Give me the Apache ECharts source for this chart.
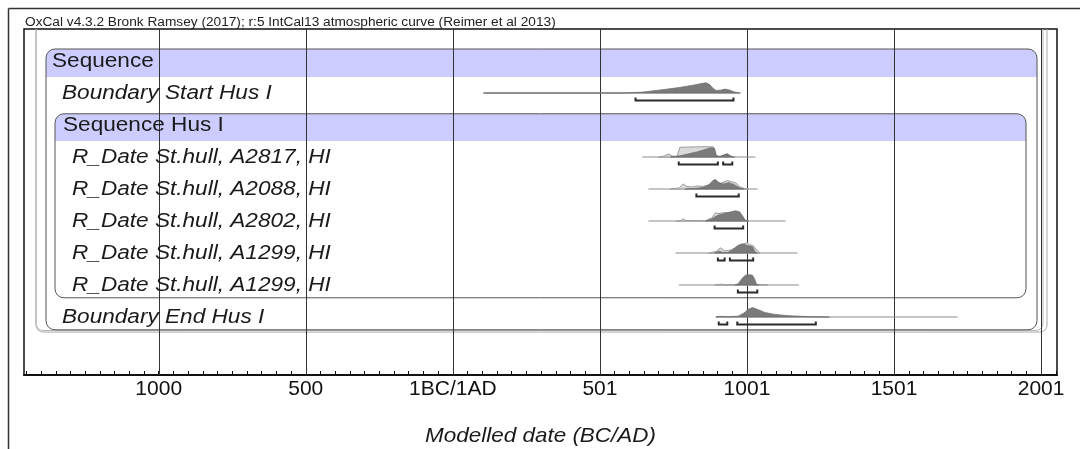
<!DOCTYPE html>
<html>
<head>
<meta charset="utf-8">
<script src="https://cdn.jsdelivr.net/npm/echarts@6/dist/echarts.min.js"></script>
<style>
  html, body { margin: 0; padding: 0; background: #fff; }
  #chart { width: 1080px; height: 449px; }
</style>
</head>
<body>
<div id="chart"></div>
<script>
// x axis in years, 0 = 1BC/1AD
const xMin = -1458
const xMax = 2054
const tickValues = [-1000, -500, 0, 500, 1000, 1500, 2000]
const tickLabels = ['1000', '500', '1BC/1AD', '501', '1001', '1501', '2001']
const minorTicks = []
for (let v = -1450; v <= 2050; v += 50) minorTicks.push(v)

// rows (y = row number, top to bottom)
const rowNames = [
  'Sequence',
  'Boundary Start Hus I',
  'Sequence Hus I',
  'R_Date St.hull, A2817, HI',
  'R_Date St.hull, A2088, HI',
  'R_Date St.hull, A2802, HI',
  'R_Date St.hull, A1299, HI',
  'R_Date St.hull, A1299, HI',
  'Boundary End Hus I',
]
const rowY = [1, 2, 3, 4, 5, 6, 7, 8, 9]
const rowItalic = [false, true, false, true, true, true, true, true, true]
const rowIndent = [28, 38, 39, 48, 48, 48, 48, 48, 38]

// Boundary Start Hus I
const startSpan = [104, 979]
const startPost = [[104, 0], [580, 0], [640, 0.08], [672, 0.18], [720, 0.35], [774, 0.55], [820, 0.78], [845, 0.92], [860, 1.0], [872, 0.85], [885, 0.45], [895, 0.25], [910, 0.28], [925, 0.38], [940, 0.3], [955, 0.12], [975, 0]]
const startRanges = [[621, 954]]

// A2817
const a2817Span = [644, 1029]
const a2817Lik = [[700, 0], [720, 0.1], [733, 0.3], [745, 0.1], [762, 0.05], [772, 0.95], [800, 0.97], [850, 1.0], [885, 1.0], [893, 0.2], [905, 0.05], [925, 0.2], [933, 0.3], [945, 0.05], [960, 0]]
const a2817Post = [[740, 0], [772, 0.12], [800, 0.3], [830, 0.5], [860, 0.75], [876, 0.9], [890, 0.85], [896, 0.1], [910, 0.05], [925, 0.25], [933, 0.32], [945, 0.1], [955, 0]]
const a2817Ranges = [[768, 901], [919, 950]]

// A2088
const a2088Span = [665, 1036]
const a2088Lik = [[740, 0], [770, 0.1], [783, 0.5], [795, 0.25], [815, 0.2], [831, 0.3], [850, 0.25], [870, 0.4], [893, 0.75], [910, 0.55], [933, 0.82], [948, 0.7], [961, 0.62], [975, 0.25], [990, 0.05], [1005, 0]]
const a2088Post = [[790, 0], [820, 0.05], [850, 0.15], [870, 0.4], [885, 0.85], [893, 0.92], [905, 0.6], [920, 0.5], [937, 0.62], [955, 0.45], [970, 0.2], [980, 0.05], [990, 0]]
const a2088Ranges = [[828, 972]]

// A2802
const a2802Span = [665, 1131]
const a2802Lik = [[760, 0], [775, 0.05], [783, 0.2], [792, 0.05], [860, 0.03], [880, 0.3], [893, 0.8], [905, 0.72], [920, 0.82], [944, 0.8], [965, 0.7], [980, 0.4], [992, 0.05], [1005, 0]]
const a2802Post = [[860, 0], [880, 0.2], [900, 0.55], [920, 0.7], [940, 0.85], [961, 1.0], [975, 0.9], [985, 0.5], [995, 0.05], [1005, 0]]
const a2802Ranges = [[890, 987]]

// A1299 (first)
const a1299aSpan = [757, 1171]
const a1299aLik = [[870, 0], [895, 0.15], [910, 0.5], [925, 0.2], [945, 0.3], [965, 0.55], [985, 0.85], [1001, 1.0], [1010, 0.8], [1021, 0.72], [1032, 0.3], [1045, 0]]
const a1299aPost = [[890, 0], [905, 0.18], [918, 0.05], [935, 0.05], [950, 0.3], [970, 0.75], [984, 0.9], [1000, 0.75], [1019, 0.6], [1028, 0.1], [1035, 0]]
const a1299aRanges = [[901, 924], [942, 1021]]

// A1299 (second)
const a1299bSpan = [768, 1177]
const a1299bLik = [[890, 0], [910, 0.08], [930, 0.03], [960, 0.05], [1040, 0.05], [1070, 0]]
const a1299bPost = [[960, 0], [971, 0.15], [985, 0.7], [996, 0.97], [1008, 1.0], [1018, 0.97], [1026, 0.6], [1032, 0.1], [1040, 0]]
const a1299bRanges = [[969, 1035]]

// Boundary End Hus I
const endSpan = [893, 1716]
const endPost = [[895, 0], [905, 0.05], [920, 0.06], [935, 0.02], [970, 0.08], [990, 0.4], [1005, 0.75], [1018, 0.92], [1035, 0.75], [1060, 0.45], [1090, 0.28], [1130, 0.15], [1180, 0.07], [1230, 0.02], [1280, 0]]
const endRanges = [[904, 933], [967, 1234]]

const dists = [
  { row: 2, span: startSpan, post: startPost, ranges: startRanges },
  { row: 4, span: a2817Span, lik: a2817Lik, post: a2817Post, ranges: a2817Ranges },
  { row: 5, span: a2088Span, lik: a2088Lik, post: a2088Post, ranges: a2088Ranges },
  { row: 6, span: a2802Span, lik: a2802Lik, post: a2802Post, ranges: a2802Ranges },
  { row: 7, span: a1299aSpan, lik: a1299aLik, post: a1299aPost, ranges: a1299aRanges },
  { row: 8, span: a1299bSpan, lik: a1299bLik, post: a1299bPost, ranges: a1299bRanges },
  { row: 9, span: endSpan, post: endPost, ranges: endRanges },
]

const FONT = '"Liberation Sans", Arial, sans-serif'
const yMax = 10.8125
const peakH = 0.32 // height of density 1, in rows

// frame boxes: px in from grid left / right, top/bottom in rows
const boxes = [
  { l: 12, r: 10, top: -1, bottom: 9.47, radius: 7, stroke: '#a8a8a8' },
  { l: 12, r: 14, top: -1, bottom: 9.42, radius: 7, stroke: '#b4b4b4' },
  { l: 22, r: 20, top: 0.625, band: 1.5, bottom: 9.4, radius: 9, stroke: '#555' },
  { l: 31, r: 31, top: 2.65, band: 3.5, bottom: 8.4, radius: 9, stroke: '#555' },
]

const chart = echarts.init(document.getElementById('chart'))

function renderFrame(params, api) {
  const cs = params.coordSys
  const Y = u => api.coord([xMin, u])[1]
  const children = []
  boxes.forEach(b => {
    const x = cs.x + b.l
    const w = cs.width - b.l - b.r
    const y0 = Y(b.top)
    if (b.band != null) {
      children.push({
        type: 'rect',
        shape: { x, y: y0, width: w, height: Y(b.band) - y0, r: [b.radius, b.radius, 0, 0] },
        style: { fill: '#ccccff' },
      })
    }
    children.push({
      type: 'rect',
      shape: { x, y: y0, width: w, height: Y(b.bottom) - y0, r: b.radius },
      style: { fill: null, stroke: b.stroke, lineWidth: 1 },
    })
  })
  return { type: 'group', children }
}

function renderGrid(params, api) {
  const v = tickValues[params.dataIndex]
  const a = api.coord([v, 0])
  const b = api.coord([v, yMax])
  return {
    type: 'line',
    shape: { x1: Math.round(a[0]) + 0.5, y1: a[1], x2: Math.round(b[0]) + 0.5, y2: b[1] },
    style: { stroke: '#333', lineWidth: 1 },
  }
}

function renderLabel(params, api) {
  const i = params.dataIndex
  const p = api.coord([xMin, rowY[i]])
  return {
    type: 'text',
    x: params.coordSys.x + rowIndent[i],
    y: p[1],
    scaleX: 1.13,
    style: {
      text: rowNames[i],
      fontSize: 20,
      fontFamily: FONT,
      fontStyle: rowItalic[i] ? 'italic' : 'normal',
      fill: '#1a1a1a',
      align: 'left',
      verticalAlign: 'middle',
    },
  }
}

function renderDist(params, api) {
  const d = dists[params.dataIndex]
  const pt = p => api.coord([p[0], d.row - p[1] * peakH])
  const children = []
  const a = api.coord([d.span[0], d.row])
  const b = api.coord([d.span[1], d.row])
  children.push({
    type: 'line',
    shape: { x1: a[0], y1: a[1], x2: b[0], y2: b[1] },
    style: { stroke: '#8c8c8c', lineWidth: 1 },
  })
  if (d.lik) {
    children.push({
      type: 'polygon',
      shape: { points: d.lik.map(pt) },
      style: { fill: '#dadada', stroke: '#9c9c9c', lineWidth: 1 },
    })
  }
  children.push({
    type: 'polygon',
    shape: { points: d.post.map(pt) },
    style: { fill: '#7a7a7a', stroke: '#6a6a6a', lineWidth: 0.7 },
  })
  d.ranges.forEach(r => {
    const p1 = api.coord([r[0], d.row + 0.235])
    const p2 = api.coord([r[1], d.row + 0.235])
    children.push({
      type: 'polyline',
      shape: { points: [[p1[0], p1[1] - 3], [p1[0], p1[1]], [p2[0], p2[1]], [p2[0], p2[1] - 3]] },
      style: { stroke: '#2a2a2a', lineWidth: 2, fill: null },
    })
  })
  return { type: 'group', children }
}

chart.setOption({
  animation: false,
  backgroundColor: '#fff',
  grid: {
    left: 24,
    right: 23,
    top: 29,
    bottom: 74,
    show: true,
    backgroundColor: '#fff',
    borderColor: '#111',
    borderWidth: 1.5,
  },
  xAxis: {
    type: 'value',
    min: xMin,
    max: xMax,
    axisLine: { show: true, onZero: false, lineStyle: { color: '#111', width: 2 } },
    axisTick: {
      show: true,
      inside: true,
      length: 4,
      customValues: minorTicks,
      lineStyle: { color: '#111', width: 1 },
    },
    axisLabel: {
      customValues: tickValues,
      formatter: v => tickLabels[tickValues.indexOf(v)],
      fontSize: 21,
      fontFamily: FONT,
      color: '#111',
      margin: 4,
    },
    splitLine: { show: false },
  },
  yAxis: {
    type: 'value',
    min: 0,
    max: yMax,
    inverse: true,
    show: false,
  },
  graphic: [
    {
      type: 'line',
      shape: { x1: 8.5, y1: 8.5, x2: 1080, y2: 8.5 },
      style: { stroke: '#333', lineWidth: 1.5 },
    },
    {
      type: 'line',
      shape: { x1: 8.5, y1: 8.5, x2: 8.5, y2: 449 },
      style: { stroke: '#333', lineWidth: 1.5 },
    },
    {
      type: 'text',
      x: 25,
      y: 23,
      scaleX: 1.14,
      style: {
        text: 'OxCal v4.3.2 Bronk Ramsey (2017); r:5 IntCal13 atmospheric curve (Reimer et al 2013)',
        fontSize: 12,
        fontFamily: FONT,
        fill: '#222',
        align: 'left',
        verticalAlign: 'middle',
      },
    },
    {
      type: 'text',
      x: 540.5,
      y: 436,
      scaleX: 1.07,
      style: {
        text: 'Modelled date (BC/AD)',
        fontSize: 21,
        fontStyle: 'italic',
        fontFamily: FONT,
        fill: '#1a1a1a',
        align: 'center',
        verticalAlign: 'middle',
      },
    },
  ],
  series: [
    {
      type: 'custom',
      name: 'frame',
      z: 1,
      clip: true,
      silent: true,
      renderItem: renderFrame,
      data: [[xMin, 0]],
    },
    {
      type: 'custom',
      name: 'grid',
      z: 2,
      silent: true,
      renderItem: renderGrid,
      data: tickValues.map(v => [v, 0]),
    },
    {
      type: 'custom',
      name: 'labels',
      z: 3,
      silent: true,
      renderItem: renderLabel,
      data: rowY.map(y => [xMin, y]),
    },
    {
      type: 'custom',
      name: 'dists',
      z: 4,
      silent: true,
      renderItem: renderDist,
      data: dists.map(d => [d.span[0], d.row]),
    },
  ],
})
</script>
</body>
</html>
